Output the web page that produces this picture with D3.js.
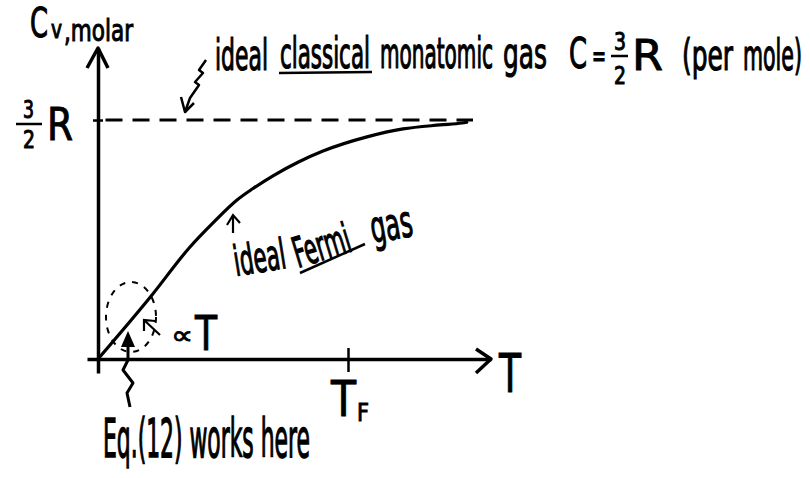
<!DOCTYPE html>
<html>
<head>
<meta charset="utf-8">
<script src="https://cdn.jsdelivr.net/npm/d3@7"></script>
<style>
  html, body { margin: 0; padding: 0; background: #fff; }
  svg { display: block; }
  text { font-family: "Liberation Sans Narrow", "DejaVu Sans Condensed", "Open Sans", sans-serif; fill: #000; }
</style>
</head>
<body>
<svg id="chart" width="810" height="478"></svg>
<script>
// Molar heat capacity of an ideal Fermi gas vs temperature (T in units of T_F, C in units of R)
const curveT = [0, 0.216, 0.368, 0.46, 0.556, 0.62, 0.70, 0.80, 0.90, 1.076, 1.22, 1.368, 1.456, 1.475];
const curveC = [0, 0.402, 0.703, 0.854, 0.998, 1.07, 1.15, 1.235, 1.305, 1.394, 1.444, 1.469, 1.481, 1.486];
const classicalC = [1.5];          // classical monatomic value, 3/2 R
const classicalSpan = [0.03, 1.5]; // T range of the dashed reference line
const xTicks = [1];                // T_F
const yTicks = [1.5];              // 3/2 R
const xTickLabel = ["T", "F"];
const yTickLabel = ["3", "2", "R"];
const axisLabels = ["C", "v", ",molar", "T"];

const svg = d3.select("#chart");
const ink = "#000";

const x = d3.scaleLinear().domain([-0.044, 1.572]).range([87, 491]);
const y = d3.scaleLinear().domain([-0.0879, 1.952]).range([373, 48]);

// text squeezed horizontally to a target width (narrow hand lettering)
function txt(str, px, py, size, len, rot) {
  const g = svg.append("g");
  const t = g.append("text")
    .attr("x", 0).attr("y", 0)
    .attr("font-size", size)
    .attr("stroke", ink).attr("stroke-width", 0.9)
    .text(str);
  const natural = t.node().getComputedTextLength();
  const sx = len && natural > 0 ? len / natural : 1;
  t.attr("stroke-width", 0.9 / Math.sqrt(sx));
  g.attr("transform", `translate(${px},${py}) rotate(${rot || 0}) scale(${sx},1)`);
  return g;
}

// x axis
const gx = svg.append("g")
  .attr("transform", `translate(0,${y(0)})`)
  .call(d3.axisBottom(x).tickValues(xTicks).tickFormat("").tickSizeOuter(0));
gx.select(".domain").attr("stroke", ink).attr("stroke-width", 3.5);
gx.selectAll(".tick line").attr("y1", -11).attr("y2", 13).attr("stroke", ink).attr("stroke-width", 2.5);

// y axis
const gy = svg.append("g")
  .attr("transform", `translate(${x(0)},0)`)
  .call(d3.axisLeft(y).tickValues(yTicks).tickFormat("").tickSizeOuter(0));
gy.select(".domain").attr("stroke", ink).attr("stroke-width", 3.5);
gy.selectAll(".tick line").attr("x1", -5).attr("x2", 5).attr("stroke", ink).attr("stroke-width", 2.5);

// arrow heads on the axes
const xEnd = x.range()[1], yEnd = y.range()[1];
svg.append("path")
  .attr("d", `M${xEnd - 15},${y(0) - 10} L${xEnd},${y(0)} L${xEnd - 15},${y(0) + 14}`)
  .attr("fill", "none").attr("stroke", ink).attr("stroke-width", 3.5).attr("stroke-linejoin", "round");
svg.append("path")
  .attr("d", `M${x(0) - 11},${yEnd + 20} L${x(0)},${yEnd} L${x(0) + 10},${yEnd + 20}`)
  .attr("fill", "none").attr("stroke", ink).attr("stroke-width", 3.5).attr("stroke-linejoin", "round");

// classical limit, dashed
svg.append("line")
  .attr("x1", x(classicalSpan[0])).attr("x2", x(classicalSpan[1]))
  .attr("y1", y(classicalC[0])).attr("y2", y(classicalC[0]))
  .attr("stroke", ink).attr("stroke-width", 3).attr("stroke-dasharray", "17,10");

// Fermi gas curve
const pts = curveT.map((t, i) => [t, curveC[i]]);
svg.append("path")
  .datum(pts)
  .attr("d", d3.line().x(d => x(d[0])).y(d => y(d[1])).curve(d3.curveMonotoneX))
  .attr("fill", "none").attr("stroke", ink).attr("stroke-width", 3.2).attr("stroke-linecap", "round");

// axis labels
txt(axisLabels[0], 30, 37, 40, 18);
txt(axisLabels[1], 51, 38, 24, 11);
txt(axisLabels[2], 64, 41, 30, 69);
txt(axisLabels[3], 499, 392, 54, 22);

// 3/2 R tick label
txt(yTickLabel[0], 23, 118, 24, 11);
svg.append("line").attr("x1", 16).attr("x2", 42).attr("y1", 124).attr("y2", 124)
  .attr("stroke", ink).attr("stroke-width", 2.5);
txt(yTickLabel[1], 23, 148, 24, 12);
txt(yTickLabel[2], 47, 140, 44, 26);

// T_F tick label
txt(xTickLabel[0], 331, 416, 50, 25);
txt(xTickLabel[1], 357, 421, 25, 12);

// classical annotation line
txt("ideal", 215, 70, 42, 53);
txt("classical", 280, 68, 42, 90);
svg.append("line").attr("x1", 279).attr("x2", 372).attr("y1", 73).attr("y2", 72)
  .attr("stroke", ink).attr("stroke-width", 2.5);
txt("monatomic", 380, 68, 42, 113);
txt("gas", 503, 68, 42, 44);
txt("C", 569, 68, 42, 18);
txt("=", 592, 66, 30, 14);
txt("3", 614, 50, 24, 12);
svg.append("line").attr("x1", 611).attr("x2", 628).attr("y1", 56).attr("y2", 56)
  .attr("stroke", ink).attr("stroke-width", 2.5);
txt("2", 614, 84, 24, 12);
txt("R", 632, 70, 42, 31);
txt("(per", 682, 70, 42, 51);
txt("mole)", 743, 70, 42, 59);

// wiggly pointer to the dashed line
svg.append("path")
  .attr("d", "M206,60 L199,70 L203,73 L195,82 L199,85 L190,98 L185,112")
  .attr("fill", "none").attr("stroke", ink).attr("stroke-width", 2.5).attr("stroke-linejoin", "round");
svg.append("path")
  .attr("d", "M181,97 L185,112 L194,103")
  .attr("fill", "none").attr("stroke", ink).attr("stroke-width", 2.5).attr("stroke-linejoin", "round");

// Fermi gas label
svg.append("path")
  .attr("d", "M233,233 L233,216 M227,225 L233,215 L240,223")
  .attr("fill", "none").attr("stroke", ink).attr("stroke-width", 2.2);
txt("ideal", 236, 276, 42, 52, -9);
txt("Fermi", 298, 268, 42, 58, -17);
svg.append("line").attr("x1", 300).attr("x2", 365).attr("y1", 273).attr("y2", 244)
  .attr("stroke", ink).attr("stroke-width", 2.5);
txt("gas", 373, 243, 44, 42, -10);

// low-temperature region: dashed circle, proportional label, pointer
svg.append("ellipse")
  .attr("cx", 131).attr("cy", 317).attr("rx", 25).attr("ry", 35)
  .attr("fill", "none").attr("stroke", ink).attr("stroke-width", 2).attr("stroke-dasharray", "6,7");
svg.append("path")
  .attr("d", "M160,335 L144,320 M144,331 L144,320 L155,321")
  .attr("fill", "none").attr("stroke", ink).attr("stroke-width", 2.2);
txt("\u221D", 171, 344, 26, 22);
txt("T", 195, 350, 48, 22);

svg.append("path")
  .attr("d", "M130,407 L127,393 L133,383 L123,370 L128,360 L128,344")
  .attr("fill", "none").attr("stroke", ink).attr("stroke-width", 3).attr("stroke-linejoin", "round");
svg.append("path")
  .attr("d", "M121,347 L128,331 L135,347 Z")
  .attr("fill", ink);
txt("Eq.(12) works here", 103, 457, 54, 207);
</script>
</body>
</html>
